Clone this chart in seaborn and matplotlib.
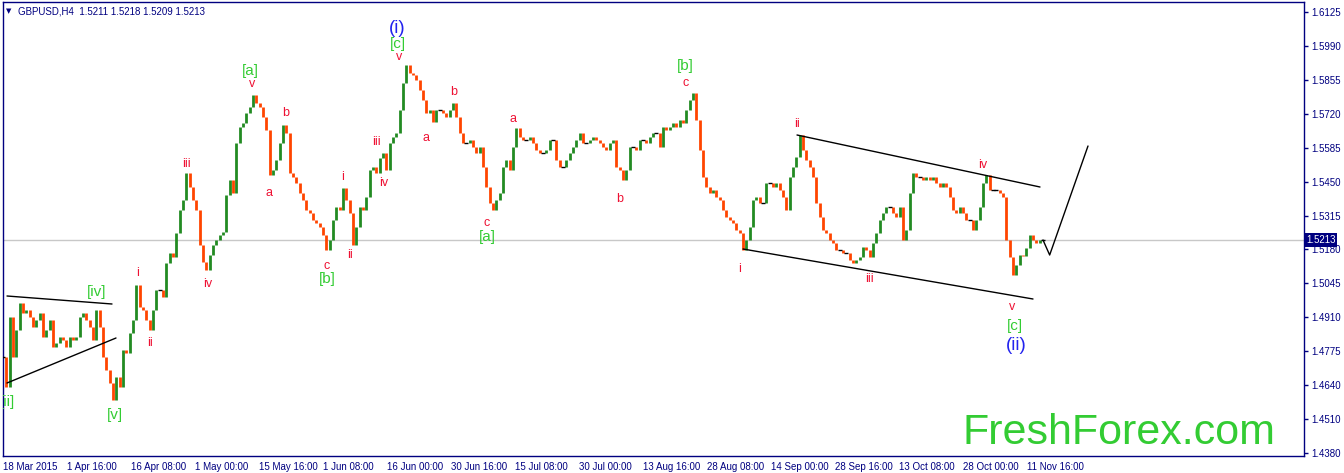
import numpy as np
import pandas as pd
import matplotlib
matplotlib.use('Agg')
import matplotlib.pyplot as plt
import matplotlib.transforms as mtransforms
import seaborn as sns

sns.set_style('white')
plt.rcParams['font.family'] = ['Liberation Sans', 'DejaVu Sans']

NAVY = '#000080'
UP = '#228b22'
DOWN = '#ff4500'
RED = '#ee1133'
GREEN = '#33cc33'
BLUE = '#2222ee'

# GBPUSD H4 closes, one sample every ~3 bars (18 Mar - 19 Nov 2015)
close = [
    1.4745, 1.4625, 1.4905, 1.4745, 1.4853, 1.4961, 1.4921, 1.4933, 1.4905, 1.4865,
    1.4893, 1.4921, 1.4825, 1.4853, 1.4893, 1.4785, 1.4801, 1.4825, 1.4813, 1.4785,
    1.4825, 1.4813, 1.4825, 1.4905, 1.4921, 1.4893, 1.4865, 1.4813, 1.4933, 1.4865,
    1.4745, 1.4693, 1.4641, 1.4573, 1.4665, 1.4625, 1.4773, 1.4761, 1.4841, 1.4893,
    1.5033, 1.4945, 1.4933, 1.4893, 1.4853, 1.4933, 1.5013, 1.5013, 1.4985, 1.5121,
    1.5161, 1.5145, 1.5241, 1.5333, 1.5373, 1.5481, 1.5425, 1.5373, 1.5333, 1.5193,
    1.5125, 1.5093, 1.5153, 1.5193, 1.5213, 1.5233, 1.5245, 1.5393, 1.5453, 1.5401,
    1.5601, 1.5665, 1.5681, 1.5721, 1.5745, 1.5793, 1.5761, 1.5745, 1.5705, 1.5653,
    1.5473, 1.5493, 1.5533, 1.5601, 1.5673, 1.5641, 1.5481, 1.5465, 1.5441, 1.5401,
    1.5373, 1.5333, 1.5321, 1.5293, 1.5281, 1.5265, 1.5233, 1.5173, 1.5213, 1.5293,
    1.5345, 1.5333, 1.5421, 1.5373, 1.5321, 1.5193, 1.5265, 1.5345, 1.5333, 1.5385,
    1.5493, 1.5505, 1.5481, 1.5541, 1.5561, 1.5493, 1.5601, 1.5625, 1.5641, 1.5733,
    1.5841, 1.5913, 1.5881, 1.5873, 1.5853, 1.5813, 1.5773, 1.5721, 1.5733, 1.5685,
    1.5733, 1.5733, 1.5721, 1.5705, 1.5733, 1.5761, 1.5705, 1.5641, 1.5601, 1.5601,
    1.5613, 1.5585, 1.5561, 1.5585, 1.5505, 1.5425, 1.5361, 1.5333, 1.5373, 1.5401,
    1.5505, 1.5533, 1.5493, 1.5585, 1.5661, 1.5625, 1.5613, 1.5613, 1.5625, 1.5601,
    1.5573, 1.5561, 1.5561, 1.5573, 1.5613, 1.5613, 1.5533, 1.5505, 1.5505, 1.5533,
    1.5561, 1.5585, 1.5613, 1.5641, 1.5601, 1.5601, 1.5613, 1.5625, 1.5613, 1.5601,
    1.5585, 1.5573, 1.5601, 1.5613, 1.5505, 1.5493, 1.5453, 1.5493, 1.5585, 1.5585,
    1.5573, 1.5613, 1.5613, 1.5601, 1.5625, 1.5641, 1.5641, 1.5585, 1.5665, 1.5653,
    1.5665, 1.5681, 1.5665, 1.5693, 1.5681, 1.5733, 1.5773, 1.5801, 1.5693, 1.5573,
    1.5465, 1.5425, 1.5401, 1.5413, 1.5385, 1.5373, 1.5333, 1.5305, 1.5293, 1.5281,
    1.5253, 1.5241, 1.5173, 1.5213, 1.5265, 1.5373, 1.5385, 1.5361, 1.5361, 1.5441,
    1.5441, 1.5425, 1.5441, 1.5413, 1.5385, 1.5333, 1.5465, 1.5505, 1.5545, 1.5633,
    1.5573, 1.5533, 1.5505, 1.5465, 1.5361, 1.5305, 1.5253, 1.5241, 1.5213, 1.5201,
    1.5173, 1.5173, 1.5161, 1.5161, 1.5133, 1.5121, 1.5133, 1.5145, 1.5185, 1.5173,
    1.5145, 1.5201, 1.5241, 1.5293, 1.5321, 1.5345, 1.5345, 1.5321, 1.5305, 1.5345,
    1.5213, 1.5253, 1.5401, 1.5481, 1.5465, 1.5465, 1.5453, 1.5465, 1.5453, 1.5465,
    1.5441, 1.5425, 1.5441, 1.5425, 1.5385, 1.5333, 1.5321, 1.5345, 1.5321, 1.5293,
    1.5293, 1.5253, 1.5293, 1.5345, 1.5441, 1.5473, 1.5413, 1.5413, 1.5413, 1.5401,
    1.5385, 1.5213, 1.5145, 1.5073, 1.5113, 1.5153, 1.5149, 1.5181, 1.5233, 1.5213,
    1.5201, 1.5213, 1.5213,
]

date_labels = ['18 Mar 2015', '1 Apr 16:00', '16 Apr 08:00', '1 May 00:00', '15 May 16:00',
               '1 Jun 08:00', '16 Jun 00:00', '30 Jun 16:00', '15 Jul 08:00', '30 Jul 00:00',
               '13 Aug 16:00', '28 Aug 08:00', '14 Sep 00:00', '28 Sep 16:00', '13 Oct 08:00',
               '28 Oct 00:00', '11 Nov 16:00']
date_pos = [0, 19.2, 38.4, 57.6, 76.8, 96, 115.2, 134.4, 153.6, 172.8,
            192, 211.2, 230.4, 249.6, 268.8, 288, 307.2]

price_labels = ['1.6125', '1.5990', '1.5855', '1.5720', '1.5585', '1.5450', '1.5315',
                '1.5180', '1.5045', '1.4910', '1.4775', '1.4640', '1.4510', '1.4380']
price_pos = [1.6125, 1.5989, 1.5854, 1.5718, 1.5583, 1.5447, 1.5311,
             1.5176, 1.5040, 1.4905, 1.4769, 1.4633, 1.4498, 1.4362]

# trend lines (triangle, channel) and projected path
tri_up_x, tri_up_y = [1.2, 32.7], [1.4989, 1.4957]
tri_lo_x, tri_lo_y = [1.2, 33.9], [1.4641, 1.4821]
ch_up_x, ch_up_y = [238.2, 311.1], [1.5633, 1.5425]
ch_lo_x, ch_lo_y = [222, 309], [1.5177, 1.4977]
proj_x, proj_y = [312, 314, 325.5], [1.5213, 1.5153, 1.5589]

# wave labels
lab_text = ['[ii]', '[iv]', '[v]', 'i', 'ii', 'iii', 'iv', '[a]', 'v', 'a', 'b', 'c', '[b]',
            'i', 'ii', 'iii', 'iv', '(i)', '[c]', 'v', 'a', 'b', 'c', '[a]', 'a', 'b',
            '[b]', 'c', 'i', 'ii', 'iii', 'iv', 'v', '[c]', '(ii)']
lab_x = [1.35, 28.2, 33.6, 40.5, 44.1, 54.9, 61.5, 74.1, 74.7, 79.8, 84.9, 97.2, 97.2,
         102, 104.1, 111.9, 114.3, 118.2, 118.5, 118.8, 126.9, 135.3, 145.2, 145.2, 153, 185.1,
         204.6, 204.9, 221.1, 238.2, 259.8, 294, 302.7, 303.6, 303.9]
lab_y = [1.4565, 1.5005, 1.4513, 1.5081, 1.4801, 1.5517, 1.5037, 1.5889, 1.5837, 1.5401,
         1.5721, 1.5109, 1.5057, 1.5465, 1.5153, 1.5605, 1.5441, 1.6061, 1.5997, 1.5945,
         1.5621, 1.5805, 1.5281, 1.5225, 1.5697, 1.5377, 1.5909, 1.5841, 1.5097, 1.5677,
         1.5057, 1.5513, 1.4945, 1.4869, 1.4793]
lab_kind = ['g', 'g', 'g', 'r', 'r', 'r', 'r', 'g', 'r', 'r', 'r', 'r', 'g',
            'r', 'r', 'r', 'r', 'b', 'g', 'r', 'r', 'r', 'r', 'g', 'r', 'r',
            'g', 'r', 'r', 'r', 'r', 'r', 'r', 'g', 'b']

df = pd.DataFrame({'close': close})
df['open'] = df['close'].shift(1).fillna(df['close'])
df['x'] = np.arange(len(df))

fig = plt.figure(figsize=(13.44, 4.73), dpi=100)
ax = fig.add_axes([2.5 / 1344, 17.5 / 473, 1301.5 / 1344, 453.5 / 473])

ax.axhline(close[-1], color='#c8c8c8', lw=1, zorder=0)

up = df[df.close > df.open]
dn = df[df.close < df.open]
eq = df[df.close == df.open]
ax.vlines(up.x, up.open, up.close, color=UP, lw=2.0, zorder=2)
ax.vlines(dn.x, dn.open, dn.close, color=DOWN, lw=2.0, zorder=2)
ax.scatter(eq.x, eq.close, marker='_', s=12, color='black', lw=1, zorder=3)

for lx, ly in [(tri_up_x, tri_up_y), (tri_lo_x, tri_lo_y), (ch_up_x, ch_up_y),
               (ch_lo_x, ch_lo_y), (proj_x, proj_y)]:
    sns.lineplot(x=lx, y=ly, ax=ax, color='black', lw=1, sort=False, estimator=None)

styles = {'r': (RED, 9), 'g': (GREEN, 11), 'b': (BLUE, 13.5)}
for t, x, y, k in zip(lab_text, lab_x, lab_y, lab_kind):
    c, fs = styles[k]
    ax.text(x, y, t, color=c, fontsize=fs, ha='center', va='center', clip_on=True, zorder=4)

ax.set_xlim(-0.15, 390.3)
ax.set_ylim(1.4351, 1.6165)

ax.set_xticks(date_pos)
ax.set_xticklabels(date_labels, ha='left')
ax.yaxis.tick_right()
ax.set_yticks(price_pos)
ax.set_yticklabels(price_labels)
ax.tick_params(axis='x', direction='out', length=3, width=1, color=NAVY,
               labelsize=7, labelcolor=NAVY, pad=1.5)
ax.tick_params(axis='y', direction='out', length=3, width=1, color=NAVY,
               labelsize=7, labelcolor=NAVY, pad=2)
ax.set_xlabel('')
ax.set_ylabel('')
for s in ax.spines.values():
    s.set_color(NAVY)
    s.set_linewidth(1)
ax.grid(False)

# current price box on the price scale
trans = mtransforms.blended_transform_factory(ax.transAxes, ax.transData)
ax.text(1.0015, close[-1], '1.5213', transform=trans, color='white', fontsize=7,
        va='center', ha='left', clip_on=False, zorder=10,
        bbox=dict(facecolor=NAVY, edgecolor='none', pad=1.2))

fig.text(9 / 1344, 1 - 11 / 473, '\u25bc', fontsize=5, color=NAVY, va='center', ha='center',
         family='DejaVu Sans')
fig.text(18 / 1344, 1 - 11 / 473, 'GBPUSD,H4  1.5211 1.5218 1.5209 1.5213', fontsize=7,
         color=NAVY, va='center', ha='left')
fig.text(962 / 1344, 1 - 444 / 473, 'FreshForex.com', fontsize=31, color=GREEN,
         va='baseline', ha='left', family='Liberation Sans')

fig.savefig('out.png', dpi=100, facecolor='white')
